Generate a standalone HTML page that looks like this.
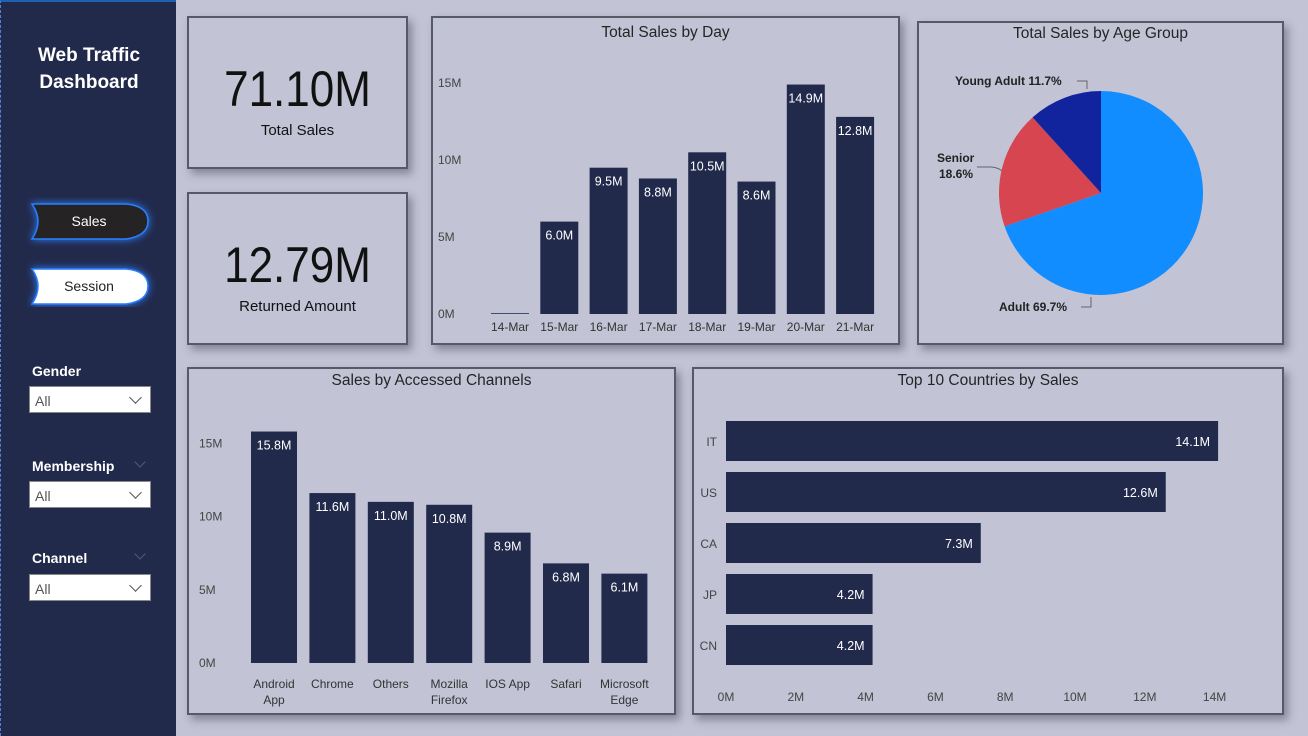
<!DOCTYPE html>
<html><head><meta charset="utf-8"><style>
*{box-sizing:border-box;margin:0;padding:0}
body{width:1308px;height:736px;background:#c2c3d5;font-family:"Liberation Sans",sans-serif;position:relative;overflow:hidden}
.side{position:absolute;left:0;top:0;width:176px;height:736px;background:#222a4c;border-left:1px dashed #5a7fd0;border-top:2px solid #1d5fb0}
.card{position:absolute;background:#c2c3d5;border:2px solid #555a66;box-shadow:4px 5px 8px rgba(60,60,80,.45)}
.title{position:absolute;left:0;right:0;text-align:center;font-size:15.5px;color:#252525}
.kpi{position:absolute;left:0;right:0;text-align:center;color:#111}
.big{transform:scaleX(0.88);font-size:50px}
.flbl{position:absolute;left:31px;color:#fff;font-weight:bold;font-size:14px}
.chev{position:absolute;left:135px;width:8px;height:8px;border-right:1px solid #555c78;border-bottom:1px solid #555c78;transform:rotate(45deg)}
.dd{position:absolute;left:28px;width:122px;height:27px;background:#fff;border:1px solid #888;font-size:14px;color:#555;padding:6px 0 0 5px}
.dd:after{content:"";position:absolute;right:10px;top:6px;width:8px;height:8px;border-right:1.5px solid #555;border-bottom:1.5px solid #555;transform:rotate(45deg)}
svg text{font-family:"Liberation Sans",sans-serif}
</style></head><body>
<div class="side">
 <div style="position:absolute;top:40px;left:0;width:176px;text-align:center;color:#fff;font-weight:bold;font-size:19px;line-height:27px">Web Traffic<br>Dashboard</div>
 <svg style="position:absolute;left:25px;top:195px" width="130" height="110">
  <g><path d="M6,7 H100 Q122,9 122,24 Q122,39 100,42 H6 Q18,24 6,7Z" fill="#252324" stroke="#2a7fff" stroke-width="1.5" style="filter:drop-shadow(0 0 4px #2a7fff)"/><text x="63" y="29" fill="#fff" font-size="14" text-anchor="middle">Sales</text></g>
  <g><path d="M6,72 H100 Q122,74 122,89 Q122,104 100,107 H6 Q18,89 6,72Z" fill="#fff" stroke="#2a7fff" stroke-width="1.5" style="filter:drop-shadow(0 0 4px #2a7fff)"/><text x="63" y="94" fill="#222" font-size="14" text-anchor="middle">Session</text></g>
 </svg>
 <div class="flbl" style="top:361px">Gender</div>
 <div class="dd" style="top:384px">All</div>
 <div class="flbl" style="top:456px">Membership</div>
 <div class="chev" style="top:456px"></div>
 <div class="dd" style="top:479px">All</div>
 <div class="flbl" style="top:548px">Channel</div>
 <div class="chev" style="top:548px"></div>
 <div class="dd" style="top:572px">All</div>
</div>

<div class="card" style="left:187px;top:16px;width:221px;height:153px">
 <div class="kpi big" style="top:42px">71.10M</div>
 <div class="kpi" style="top:104px;font-size:15px">Total Sales</div>
</div>
<div class="card" style="left:187px;top:192px;width:221px;height:153px">
 <div class="kpi big" style="top:42px">12.79M</div>
 <div class="kpi" style="top:104px;font-size:15px">Returned Amount</div>
</div>

<div class="card" style="left:431px;top:16px;width:469px;height:329px">
 <div class="title" style="top:6px">Total Sales by Day</div>
 <svg id="day" width="469" height="329" style="position:absolute;left:-2px;top:-2px"></svg>
</div>
<div class="card" style="left:917px;top:21px;width:367px;height:324px">
 <div class="title" style="top:2px">Total Sales by Age Group</div>
 <svg id="pie" width="367" height="324" style="position:absolute;left:-2px;top:-2px"></svg>
</div>
<div class="card" style="left:187px;top:367px;width:489px;height:348px">
 <div class="title" style="top:3px">Sales by Accessed Channels</div>
 <svg id="ch" width="489" height="348" style="position:absolute;left:-2px;top:-2px"></svg>
</div>
<div class="card" style="left:692px;top:367px;width:592px;height:348px">
 <div class="title" style="top:3px">Top 10 Countries by Sales</div>
 <svg id="co" width="592" height="348" style="position:absolute;left:-2px;top:-2px"></svg>
</div>

<script>
const dayCats=["14-Mar","15-Mar","16-Mar","17-Mar","18-Mar","19-Mar","20-Mar","21-Mar"];
const dayVals=[0.05,6.0,9.5,8.8,10.5,8.6,14.9,12.8];
const dayTicks=[0,5,10,15];
const ageCats=["Adult","Senior","Young Adult"];
const ageVals=[69.7,18.6,11.7];
const ageColors=["#118dff","#d64550","#12239e"];
const chCats=[["Android","App"],["Chrome"],["Others"],["Mozilla","Firefox"],["IOS App"],["Safari"],["Microsoft","Edge"]];
const chVals=[15.8,11.6,11.0,10.8,8.9,6.8,6.1];
const chTicks=[0,5,10,15];
const coCats=["IT","US","CA","JP","CN"];
const coVals=[14.1,12.6,7.3,4.2,4.2];
const coTicks=[0,2,4,6,8,10,12,14];
const NS="http://www.w3.org/2000/svg";
function el(p,t,a,txt){const e=document.createElementNS(NS,t);for(const k in a)e.setAttribute(k,a[k]);if(txt!==undefined)e.textContent=txt;p.appendChild(e);return e;}
const BAR="#222a4c";
(function(){const s=document.getElementById('day');const ox=431,oy=16;
 const y=v=>314-oy-v*15.4; const x=i=>510-ox+i*49.3;
 dayTicks.forEach(t=>{const e=el(s,'text',{x:7,y:y(t)+4,'font-size':12,fill:'#444'},t+'M');});
 dayVals.forEach((v,i)=>{const b=el(s,'rect',{x:x(i)-19,y:y(v),width:38,height:y(0)-y(v),fill:BAR});
  if(v>1){const l=el(s,'text',{x:x(i),y:y(v)+18,'font-size':12.5,fill:'#fff','text-anchor':'middle'},v.toFixed(1)+'M');}
  const c=el(s,'text',{x:x(i),y:y(0)+17,'font-size':12,fill:'#333','text-anchor':'middle'},dayCats[i]);});
})();
(function(){const s=document.getElementById('pie');const cx=1101-917,cy=193-21,r=102;
 const tot=ageVals.reduce((a,b)=>a+b,0);let a0=-Math.PI/2;
 ageVals.forEach((v,i)=>{const a1=a0+v/tot*2*Math.PI;const lg=(a1-a0)>Math.PI?1:0;
  const p=el(s,'path',{d:`M${cx},${cy} L${cx+r*Math.cos(a0)},${cy+r*Math.sin(a0)} A${r},${r} 0 ${lg} 1 ${cx+r*Math.cos(a1)},${cy+r*Math.sin(a1)}Z`,fill:ageColors[i]});
  a0=a1;});
 const L=[[ageCats[0]+' '+ageVals[0]+'%',82,290,'M164,286 H174 V276'],[ageCats[1],20,141,'M60,146 H75 Q82,147 85,150'],[ageVals[1]+'%',22,157,''],[ageCats[2]+' '+ageVals[2]+'%',38,64,'M160,60 H170 V68']];
 L.forEach(l=>{const t=el(s,'text',{x:l[1],y:l[2],'font-size':12,'font-weight':'bold',fill:'#222'},l[0]);
  if(l[3])el(s,'path',{d:l[3],stroke:'#666',fill:'none'});});
})();
(function(){const s=document.getElementById('ch');const ox=187,oy=367;
 const y=v=>663-oy-v*14.65; const x=i=>274-ox+i*58.4;
 chTicks.forEach(t=>{const e=el(s,'text',{x:12,y:y(t)+4,'font-size':12,fill:'#444'},t+'M');});
 chVals.forEach((v,i)=>{const b=el(s,'rect',{x:x(i)-23,y:y(v),width:46,height:y(0)-y(v),fill:BAR});
  const l=el(s,'text',{x:x(i),y:y(v)+18,'font-size':12.5,fill:'#fff','text-anchor':'middle'},v.toFixed(1)+'M');
  chCats[i].forEach((w,j)=>{const c=el(s,'text',{x:x(i),y:y(0)+25+j*16,'font-size':12,fill:'#333','text-anchor':'middle'},w);});});
})();
(function(){const s=document.getElementById('co');const ox=692,oy=367;
 const x=v=>726-ox+v*34.9; const y=i=>441-oy+i*51;
 coTicks.forEach(t=>{const e=el(s,'text',{x:x(t),y:334,'font-size':12,fill:'#444','text-anchor':'middle'},t+'M');});
 coVals.forEach((v,i)=>{const b=el(s,'rect',{x:x(0),y:y(i)-20,width:x(v)-x(0),height:40,fill:BAR});
  const l=el(s,'text',{x:x(v)-8,y:y(i)+5,'font-size':12.5,fill:'#fff','text-anchor':'end'},v.toFixed(1)+'M');
  const c=el(s,'text',{x:x(0)-9,y:y(i)+5,'font-size':12,fill:'#444','text-anchor':'end'},coCats[i]);});
})();
</script>
</body></html>
